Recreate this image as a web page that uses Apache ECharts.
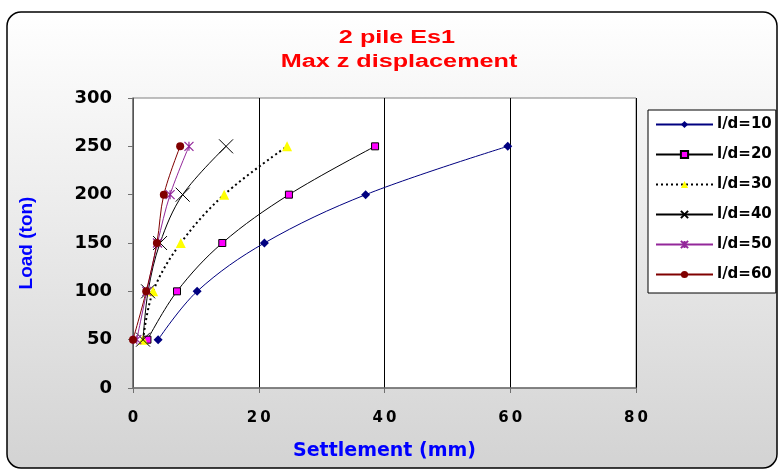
<!DOCTYPE html>
<html>
<head>
<meta charset="utf-8">
<script src="https://cdn.jsdelivr.net/npm/echarts@6/dist/echarts.min.js"></script>
<style>html,body{margin:0;padding:0;background:#fff;}#c{width:779px;height:470px;}</style>
</head>
<body>
<div id="c"></div>
<script>
const seriesNames = ['l/d=10', 'l/d=20', 'l/d=30', 'l/d=40', 'l/d=50', 'l/d=60'];
const loads = [50, 100, 150, 200, 250];
const settle10 = [4.0, 10.2, 20.9, 37.0, 59.6];
const settle20 = [2.3, 7.0, 14.2, 24.8, 38.5];
const settle30 = [1.6, 3.2, 7.6, 14.5, 24.5];
const settle40 = [1.6, 2.4, 4.3, 7.9, 14.8];
const settle50 = [0.6, 2.2, 3.9, 5.9, 8.9];
const settle60 = [0.0, 2.1, 3.8, 4.9, 7.5];
const xTicks = {min: 0, max: 80, interval: 20};
const yTicks = {min: 0, max: 300, interval: 50};
const titleLines = ['2 pile Es1', 'Max z displacement'];

const pairs = s => s.map((x, i) => [x, loads[i]]);

const styles = [
  {symbol: 'diamond', size: 9, item: {color: '#000080'}, line: {color: '#000080', width: 1}},
  {symbol: 'rect', size: 7, item: {color: '#ff00ff', borderColor: '#000', borderWidth: 1}, line: {color: '#000', width: 1}},
  {symbol: 'triangle', size: 10, item: {color: '#ffff00'}, line: {color: '#000', width: 2, type: [2, 3]}},
  {symbol: 'path://M0,0L10,10M0,10L10,0', size: 14, item: {color: 'none', borderColor: '#000', borderWidth: 1}, line: {color: '#000', width: 1}},
  {symbol: 'path://M0,0L10,10M0,10L10,0M5,0L5,10', size: 9, item: {color: 'none', borderColor: '#93279a', borderWidth: 1.2}, line: {color: '#93279a', width: 1}},
  {symbol: 'circle', size: 8, item: {color: '#800000'}, line: {color: '#800000', width: 1}}
];
const data = [settle10, settle20, settle30, settle40, settle50, settle60];

const chart = echarts.init(document.getElementById('c'));
chart.setOption({
  animation: false,
  graphic: [
    {type: 'rect', z: -10, silent: true,
     shape: {x: 7, y: 12, width: 770, height: 456, r: 14},
     style: {fill: new echarts.graphic.LinearGradient(0, 0, 0, 1, [{offset: 0, color: '#ffffff'}, {offset: 1, color: '#d3d3d3'}]), stroke: '#000', lineWidth: 1.5}},
    {type: 'text', x: 397, y: 38, scaleX: 1.4, z: 10,
     style: {text: titleLines[0], font: 'bold 18px "Liberation Sans"', fill: '#ff0000', textAlign: 'center', textVerticalAlign: 'middle'}},
    {type: 'text', x: 399, y: 62, scaleX: 1.4, z: 10,
     style: {text: titleLines[1], font: 'bold 18px "Liberation Sans"', fill: '#ff0000', textAlign: 'center', textVerticalAlign: 'middle'}}
  ],
  grid: {left: 133, right: 143, top: 98, bottom: 82, show: true, backgroundColor: '#fff', borderColor: '#808080', borderWidth: 1},
  legend: {
    data: seriesNames, orient: 'vertical', left: 648, top: 110,
    padding: [7, 4, 11, 7], itemGap: 15, itemWidth: 57, itemHeight: 9,
    backgroundColor: '#fff', borderColor: '#000', borderWidth: 1, borderRadius: 0,
    textStyle: {fontFamily: 'DejaVu Sans', fontWeight: 'bold', fontSize: 15, color: '#000', padding: [0, 0, 0, -1]}
  },
  xAxis: {
    type: 'value', min: xTicks.min, max: xTicks.max, interval: xTicks.interval,
    name: 'Settlement (mm)', nameLocation: 'middle', nameGap: 54,
    nameTextStyle: {fontFamily: 'DejaVu Sans', fontWeight: 'bold', fontSize: 19, color: '#0000ff'},
    axisLine: {show: true, lineStyle: {color: '#707070', width: 1.5}},
    axisTick: {show: true, length: 5, lineStyle: {color: '#707070'}},
    splitLine: {show: true, lineStyle: {color: '#000', width: 1}},
    axisLabel: {margin: 23, fontFamily: 'DejaVu Sans', fontWeight: 'bold', fontSize: 15, color: '#000',
      formatter: v => String(v).split('').join('\u2009')}
  },
  yAxis: {
    type: 'value', min: yTicks.min, max: yTicks.max, interval: yTicks.interval,
    name: 'Load (ton)', nameLocation: 'middle', nameGap: 97,
    nameTextStyle: {fontFamily: 'Liberation Sans', fontWeight: 'bold', fontSize: 19, color: '#0000ff'},
    axisLine: {show: true, lineStyle: {color: '#707070', width: 1.5}},
    axisTick: {show: true, length: 5, lineStyle: {color: '#707070'}},
    splitLine: {show: false},
    axisLabel: {margin: 21, fontFamily: 'DejaVu Sans', fontWeight: 'bold', fontSize: 18, color: '#000'}
  },
  series: seriesNames.map((n, i) => ({
    name: n, type: 'line', smooth: 0.35,
    data: pairs(data[i]),
    symbol: styles[i].symbol, symbolSize: styles[i].size, showAllSymbol: true,
    itemStyle: styles[i].item, lineStyle: styles[i].line,
    emphasis: {disabled: true}, z: 2 + i
  }))
});
</script>
</body>
</html>
